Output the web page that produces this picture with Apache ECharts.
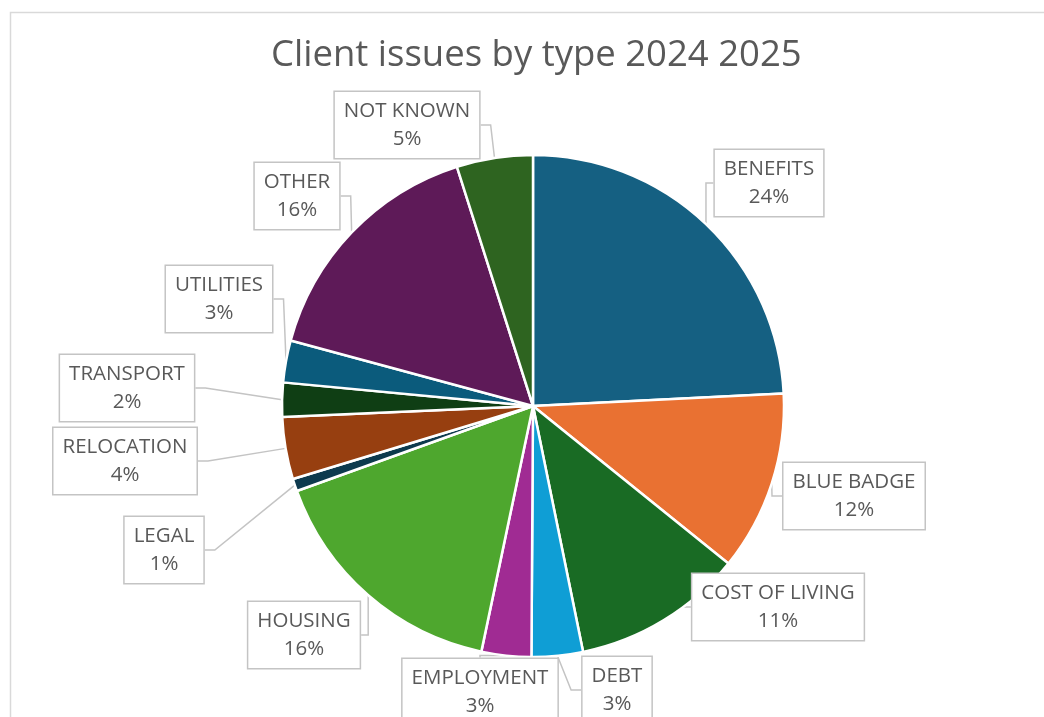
<!DOCTYPE html>
<html>
<head>
<meta charset="utf-8">
<title>Client issues by type 2024 2025</title>
<script src="https://cdn.jsdelivr.net/npm/echarts@6/dist/echarts.min.js"></script>
<style>
  html, body { margin: 0; padding: 0; background: #ffffff; }
  #chart { width: 1044px; height: 717px; }
</style>
</head>
<body>
<div id="chart"></div>
<script>
// Issue categories, clockwise from twelve o'clock
const categories = [
  'BENEFITS', 'BLUE BADGE', 'COST OF LIVING', 'DEBT', 'EMPLOYMENT', 'HOUSING',
  'LEGAL', 'RELOCATION', 'TRANSPORT', 'UTILITIES', 'OTHER', 'NOT KNOWN'
];
// Share of client issues (%)
const shares = [24.2, 11.6, 11.0, 3.3, 3.2, 16.2, 0.8, 4.0, 2.2, 2.7, 15.9, 4.9];

// Slice colours (Office theme accents, then their darker shades)
const sliceColors = [
  '#156082', '#E97132', '#196B24', '#0F9ED5', '#A02B93', '#4EA72E',
  '#0D3A4E', '#973F10', '#0F3E14', '#0B5B7C', '#5E1A58', '#2E6420'
];

// Callout box centre for each category
const calloutLayout = [
  [769, 183], [854, 496], [778, 607], [617, 690],
  [480, 692], [304, 635], [164, 550], [125, 461],
  [127, 388], [219, 299], [297, 196], [407, 125]
];

const chart = echarts.init(document.getElementById('chart'), null, { renderer: 'canvas' });

const FONT = '"Open Sans", "Noto Sans", sans-serif';

chart.setOption({
  animation: false,
  backgroundColor: '#ffffff',
  title: {
    text: 'Client issues by type 2024 2025',
    left: 266,
    top: 32,
    textStyle: {
      fontFamily: FONT,
      fontSize: 36.5,
      fontWeight: 'normal',
      color: '#595959'
    }
  },
  graphic: [{
    type: 'rect',
    left: 8,
    top: 10,
    silent: true,
    shape: { width: 1100, height: 800 },
    style: { fill: 'none', stroke: '#d9d9d9', lineWidth: 1.5 }
  }],
  series: [{
    type: 'pie',
    center: [533, 406],
    radius: ['0%', 251],
    startAngle: 90,
    clockwise: true,
    avoidLabelOverlap: false,
    itemStyle: { borderColor: '#ffffff', borderWidth: 2.5 },
    label: {
      show: true,
      position: 'outside',
      formatter: function (p) {
        return p.name + '\n' + Math.round(p.percent) + '%';
      },
      fontFamily: FONT,
      fontSize: 20.5,
      lineHeight: 28,
      color: '#595959',
      align: 'center',
      backgroundColor: '#ffffff',
      borderColor: '#c4c4c4',
      borderWidth: 1.5,
      padding: [5, 9]
    },
    labelLine: {
      show: true,
      length: 10,
      length2: 10,
      lineStyle: { color: '#c4c4c4', width: 1.5 }
    },
    labelLayout: function (params) {
      const box = calloutLayout[params.dataIndex];
      return {
        x: box[0],
        y: box[1],
        align: 'center',
        verticalAlign: 'middle'
      };
    },
    data: categories.map(function (name, i) {
      return { name: name, value: shares[i], itemStyle: { color: sliceColors[i] } };
    })
  }]
});
</script>
</body>
</html>
